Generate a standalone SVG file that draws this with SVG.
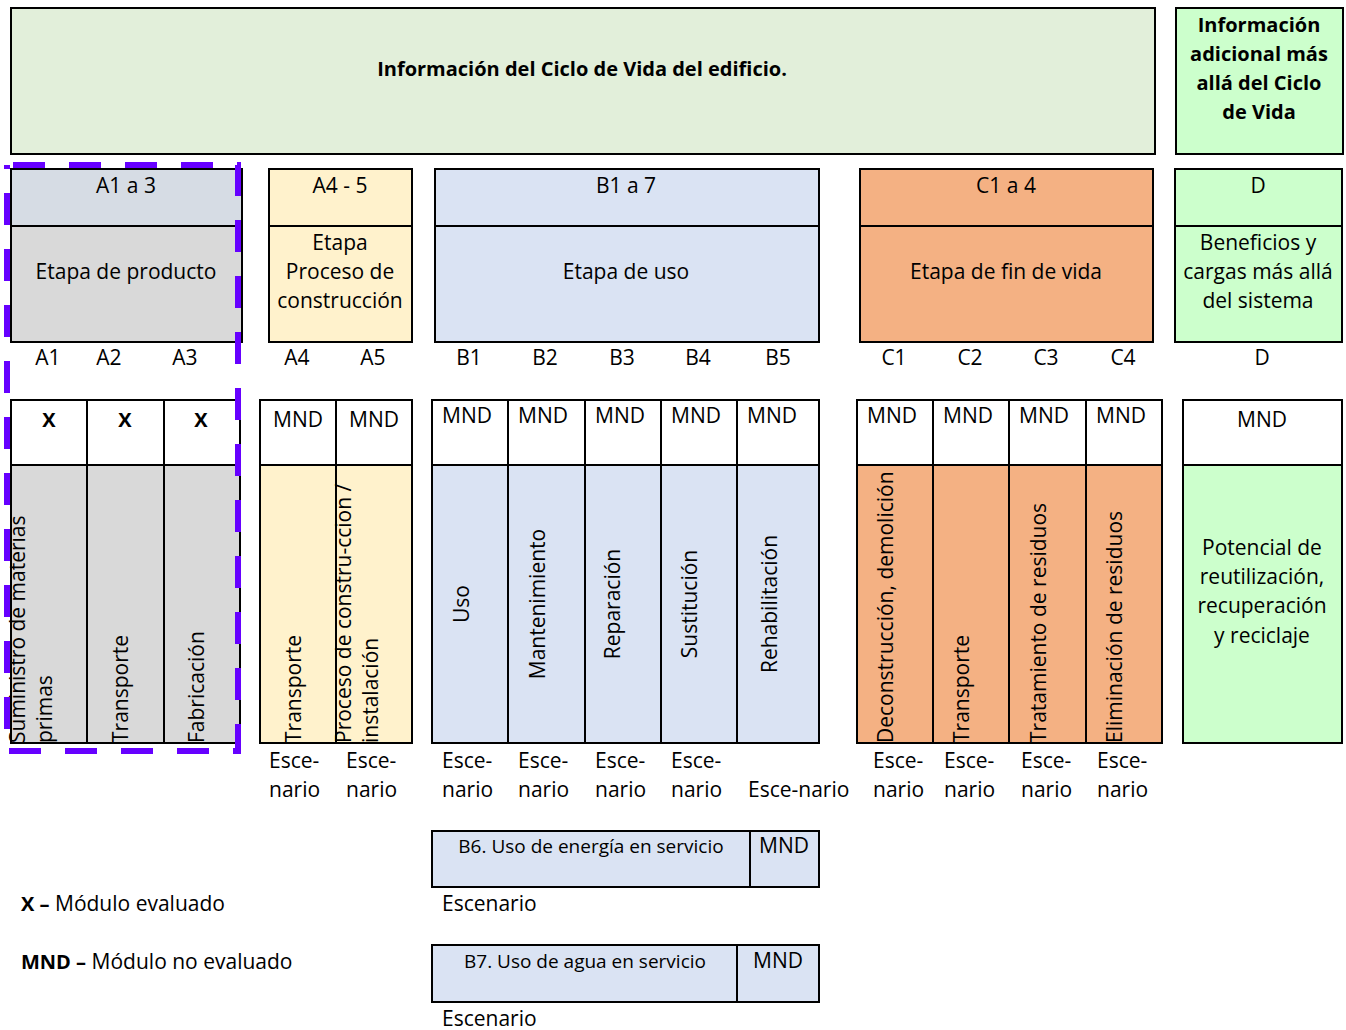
<svg xmlns="http://www.w3.org/2000/svg" width="1346" height="1030" viewBox="0 0 1346 1030">
<style>
text{font-family:"Open Sans","Noto Sans","Liberation Sans",sans-serif;font-size:21px;fill:#000}
.b{font-weight:bold;font-size:20px}
.m{text-anchor:middle}
.box{stroke:#000;stroke-width:2}
.ln{stroke:#000;stroke-width:2;fill:none}
.sm{font-size:19px}
.gry{fill:#D9D9D9}.gb{fill:#D6DCE4}.yel{fill:#FFF2CC}.blu{fill:#DAE3F3}.org{fill:#F4B183}.grn{fill:#CCFFCC}.lg{fill:#E2EFDA}.wh{fill:#fff}
</style>
<rect width="1346" height="1030" fill="#fff"/>

<g id="header-ciclo">
<rect class="box lg" x="11" y="8" width="1144" height="146"/>
<text class="b m" x="582" y="76">Información del Ciclo de Vida del edificio.</text>
</g>
<g id="header-adicional">
<rect class="box grn" x="1176" y="8" width="167" height="146"/>
<text class="b m" x="1259" y="32">Información</text>
<text class="b m" x="1259" y="61">adicional más</text>
<text class="b m" x="1259" y="90">allá del Ciclo</text>
<text class="b m" x="1259" y="119">de Vida</text>
</g>

<g id="stage-A1-3">
<rect class="box gb" x="11" y="169" width="231" height="57"/>
<rect class="box gry" x="11" y="226" width="231" height="116"/>
<text class="m" x="126" y="193">A1 a 3</text>
<text class="m" x="126" y="279">Etapa de producto</text>
</g>
<g id="stage-A4-5">
<rect class="box yel" x="269" y="169" width="143" height="173"/>
<line class="ln" x1="269" y1="226" x2="412" y2="226"/>
<text class="m" x="340" y="193">A4 - 5</text>
<text class="m" x="340" y="250">Etapa</text>
<text class="m" x="340" y="279">Proceso de</text>
<text class="m" x="340" y="308">construcción</text>
</g>
<g id="stage-B1-7">
<rect class="box blu" x="435" y="169" width="384" height="173"/>
<line class="ln" x1="435" y1="226" x2="819" y2="226"/>
<text class="m" x="626" y="193">B1 a 7</text>
<text class="m" x="626" y="279">Etapa de uso</text>
</g>
<g id="stage-C1-4">
<rect class="box org" x="860" y="169" width="293" height="173"/>
<line class="ln" x1="860" y1="226" x2="1153" y2="226"/>
<text class="m" x="1006" y="193">C1 a 4</text>
<text class="m" x="1006" y="279">Etapa de fin de vida</text>
</g>
<g id="stage-D">
<rect class="box grn" x="1175" y="169" width="167" height="173"/>
<line class="ln" x1="1175" y1="226" x2="1342" y2="226"/>
<text class="m" x="1258" y="193">D</text>
<text class="m" x="1258" y="250">Beneficios y</text>
<text class="m" x="1258" y="279">cargas más allá</text>
<text class="m" x="1258" y="308">del sistema</text>
</g>

<g id="module-labels">
<text class="m" x="48" y="365">A1</text>
<text class="m" x="109" y="365">A2</text>
<text class="m" x="185" y="365">A3</text>
<text class="m" x="297" y="365">A4</text>
<text class="m" x="373" y="365">A5</text>
<text class="m" x="469" y="365">B1</text>
<text class="m" x="545" y="365">B2</text>
<text class="m" x="622" y="365">B3</text>
<text class="m" x="698" y="365">B4</text>
<text class="m" x="778" y="365">B5</text>
<text class="m" x="894" y="365">C1</text>
<text class="m" x="970" y="365">C2</text>
<text class="m" x="1046" y="365">C3</text>
<text class="m" x="1123" y="365">C4</text>
<text class="m" x="1262" y="365">D</text>
</g>

<g id="modules-A1-3">
<rect class="box wh" x="11" y="400" width="229" height="65"/>
<rect class="box gry" x="11" y="465" width="229" height="278"/>
<line class="ln" x1="87" y1="400" x2="87" y2="743"/>
<line class="ln" x1="164" y1="400" x2="164" y2="743"/>
<text class="b m" x="49" y="427">X</text>
<text class="b m" x="125" y="427">X</text>
<text class="b m" x="201" y="427">X</text>
<text transform="translate(25,743) rotate(-90)">Suministro de materias</text>
<text transform="translate(52,743) rotate(-90)">primas</text>
<text transform="translate(128,743) rotate(-90)">Transporte</text>
<text transform="translate(204,743) rotate(-90)">Fabricación</text>
</g>

<g id="modules-A4-5">
<rect class="box wh" x="260" y="400" width="152" height="65"/>
<rect class="box yel" x="260" y="465" width="152" height="278"/>
<line class="ln" x1="336" y1="400" x2="336" y2="743"/>
<text class="m" x="298" y="427">MND</text>
<text class="m" x="374" y="427">MND</text>
<text transform="translate(301,743) rotate(-90)">Transporte</text>
<text transform="translate(351,743) rotate(-90)">Proceso de constru-ccion /</text>
<text transform="translate(378,743) rotate(-90)">instalación</text>
<text x="269" y="768">Esce-</text><text x="269" y="797">nario</text>
<text x="346" y="768">Esce-</text><text x="346" y="797">nario</text>
</g>

<g id="modules-B1-5">
<rect class="box wh" x="432" y="400" width="387" height="65"/>
<rect class="box blu" x="432" y="465" width="387" height="278"/>
<line class="ln" x1="508" y1="400" x2="508" y2="743"/>
<line class="ln" x1="585" y1="400" x2="585" y2="743"/>
<line class="ln" x1="661" y1="400" x2="661" y2="743"/>
<line class="ln" x1="737" y1="400" x2="737" y2="743"/>
<text x="442" y="423">MND</text>
<text x="518" y="423">MND</text>
<text x="595" y="423">MND</text>
<text x="671" y="423">MND</text>
<text x="747" y="423">MND</text>
<text class="m" transform="translate(469,604) rotate(-90)">Uso</text>
<text class="m" transform="translate(545,604) rotate(-90)">Mantenimiento</text>
<text class="m" transform="translate(620,604) rotate(-90)">Reparación</text>
<text class="m" transform="translate(697,604) rotate(-90)">Sustitución</text>
<text class="m" transform="translate(777,604) rotate(-90)">Rehabilitación</text>
<text x="442" y="768">Esce-</text><text x="442" y="797">nario</text>
<text x="518" y="768">Esce-</text><text x="518" y="797">nario</text>
<text x="595" y="768">Esce-</text><text x="595" y="797">nario</text>
<text x="671" y="768">Esce-</text><text x="671" y="797">nario</text>
<text x="748" y="797">Esce-nario</text>
</g>

<g id="modules-C1-4">
<rect class="box wh" x="857" y="400" width="305" height="65"/>
<rect class="box org" x="857" y="465" width="305" height="278"/>
<line class="ln" x1="933" y1="400" x2="933" y2="743"/>
<line class="ln" x1="1009" y1="400" x2="1009" y2="743"/>
<line class="ln" x1="1086" y1="400" x2="1086" y2="743"/>
<text x="867" y="423">MND</text>
<text x="943" y="423">MND</text>
<text x="1019" y="423">MND</text>
<text x="1096" y="423">MND</text>
<text transform="translate(893,743) rotate(-90)">Deconstrucción, demolición</text>
<text transform="translate(969,743) rotate(-90)">Transporte</text>
<text transform="translate(1046,743) rotate(-90)">Tratamiento de residuos</text>
<text transform="translate(1122,743) rotate(-90)">Eliminación de residuos</text>
<text x="873" y="768">Esce-</text><text x="873" y="797">nario</text>
<text x="944" y="768">Esce-</text><text x="944" y="797">nario</text>
<text x="1021" y="768">Esce-</text><text x="1021" y="797">nario</text>
<text x="1097" y="768">Esce-</text><text x="1097" y="797">nario</text>
</g>

<g id="module-D">
<rect class="box wh" x="1183" y="400" width="159" height="65"/>
<rect class="box grn" x="1183" y="465" width="159" height="278"/>
<text class="m" x="1262" y="427">MND</text>
<text class="m" x="1262" y="555">Potencial de</text>
<text class="m" x="1262" y="584">reutilización,</text>
<text class="m" x="1262" y="613">recuperación</text>
<text class="m" x="1262" y="643">y reciclaje</text>
</g>

<g id="module-B6">
<rect class="box blu" x="432" y="831" width="387" height="56"/>
<line class="ln" x1="750" y1="831" x2="750" y2="887"/>
<text class="m sm" x="591" y="853">B6. Uso de energía en servicio</text>
<text class="m" x="784" y="853">MND</text>
<text x="442" y="911">Escenario</text>
</g>
<g id="module-B7">
<rect class="box blu" x="432" y="945" width="387" height="57"/>
<line class="ln" x1="737" y1="945" x2="737" y2="1002"/>
<text class="m sm" x="585" y="968">B7. Uso de agua en servicio</text>
<text class="m" x="778" y="968">MND</text>
<text x="442" y="1026">Escenario</text>
</g>

<g id="legend">
<text x="21" y="911"><tspan class="b">X –</tspan> Módulo evaluado</text>
<text x="21" y="969"><tspan class="b">MND –</tspan> Módulo no evaluado</text>
</g>

<g id="connectors">
<rect x="7" y="165" width="231" height="586" fill="none" stroke="#6600FF" stroke-width="6" stroke-dasharray="32 24" stroke-dashoffset="50"/>
</g>
</svg>
